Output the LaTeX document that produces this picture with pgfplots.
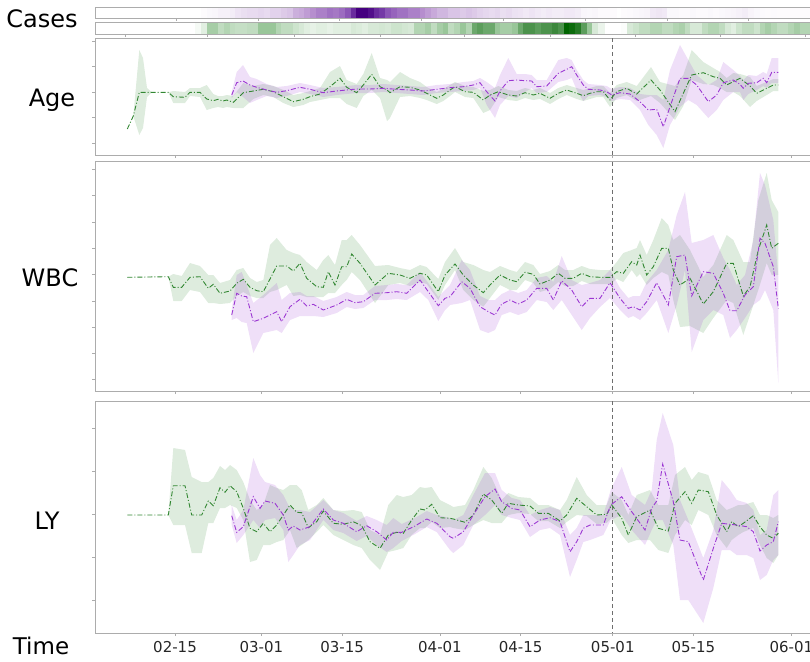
\documentclass[border=0pt]{standalone}
\usepackage{pgfplots}
\pgfplotsset{compat=1.18}
\usepackage{pgfplotstable}
\usepgfplotslibrary{fillbetween}
\usepackage{fontspec}
\setmainfont{DejaVu Sans}
\definecolor{pline}{RGB}{155,55,210}
\definecolor{gline}{RGB}{50,135,50}
\definecolor{frame}{RGB}{172,172,172}
\definecolor{vline}{RGB}{110,110,110}

% ---------- case strips: day (0 = 02-15), intensity ----------
\pgfplotstableread{
day val
5 .02
6 .04
7 .05
8 .08
9 .08
10 .1
11 .15
12 .18
13 .2
14 .2
15 .22
16 .2
17 .25
18 .25
19 .28
20 .3
21 .38
22 .4
23 .45
24 .5
25 .55
26 .55
27 .6
28 .58
29 .62
30 .7
31 .85
32 1
33 1
34 .95
35 .85
36 .8
37 .7
38 .65
39 .6
40 .6
41 .55
42 .55
43 .5
44 .45
45 .4
46 .35
47 .35
48 .3
49 .3
50 .28
51 .3
52 .28
53 .25
54 .22
55 .2
56 .22
57 .18
58 .2
59 .16
60 .15
61 .12
62 .15
63 .12
64 .1
65 .12
66 .1
67 .1
68 .12
69 .12
70 .1
71 .05
72 .04
73 .05
74 .03
75 .03
76 .02
78 .02
79 .03
80 .04
81 .05
82 .06
83 .12
84 .14
85 .12
86 .04
87 .04
88 .03
89 .03
90 .04
91 .03
92 .03
93 .04
94 .03
95 .04
96 .05
97 .06
98 .08
99 .1
100 .06
101 .04
102 .03
103 .02
104 .03
105 .02
106 .02
107 .02
108 .02
109 .02
110 .02
}\CasesP

\pgfplotstableread{
day val
4 .05
5 .15
6 .4
7 .4
8 .3
9 .35
10 .3
11 .28
12 .28
13 .3
14 .3
15 .45
16 .45
17 .45
18 .35
19 .3
20 .3
21 .25
22 .2
23 .15
24 .12
25 .15
26 .15
27 .12
28 .15
29 .15
30 .15
31 .2
32 .18
33 .15
34 .2
35 .2
36 .22
37 .2
38 .25
39 .25
40 .22
41 .2
42 .35
43 .35
44 .4
45 .3
46 .4
47 .45
48 .3
49 .35
50 .45
51 .35
52 .6
53 .65
54 .6
55 .6
56 .45
57 .4
58 .4
59 .45
60 .6
61 .7
62 .7
63 .65
64 .7
65 .7
66 .75
67 .7
68 1
69 .95
70 .85
71 .65
72 .45
73 .2
74 .1
78 .02
79 .2
80 .25
81 .3
82 .3
83 .35
84 .35
85 .3
86 .3
87 .35
88 .38
89 .3
90 .2
91 .2
92 .3
93 .35
94 .35
95 .3
96 .2
97 .15
98 .25
99 .3
100 .3
101 .25
102 .35
103 .4
104 .35
105 .3
106 .3
107 .35
108 .4
109 .35
110 .35
}\CasesG

% ---------- Age ----------
\pgfplotstableread{
px y lo hi
127.3 129 129 129
133.3 116 116 116
139.3 92.3 50 135
143 92.3 58 128
147 92.3 88 97
152 92.3 92.3 92.3
168.3 92.3 92.3 92.3
173.3 96.7 91 103
185 97.3 92 103
190 92.3 88 96
200 92.3 88 97
206.7 99 85 110
213.3 100.7 94 108
218 99.3 96 107
223 101 96 108
226.7 100 95 107
233.3 102.3 96 108
243.3 92.7 83 108
253.3 91 86 99
263.3 89.3 84 95
273.3 91.7 86 97
283.3 96.7 90 103
293.3 101.7 95 107
303.3 99.3 93 105
310 96.7 91 102
320 94 88 100
330 86.7 72 98
340 78.3 66 98
346.7 87.3 80 104
356.7 92.7 84 108
363.3 85 74 96
371.7 74.3 53 90
380 86.7 78 98
387 90 80 121
390 92.7 82 118
400 86.7 72 97
410 87.3 78 96
420 90 82 98
426.7 93.3 87 100
436.7 98.3 92 104
443.3 95 89 101
450 90 85 96
455 86.7 82 92
465 91.7 86 97
473.3 92.3 87 98
483.3 100 91 113
490 95 90 110
498.3 91.7 86 97
508.3 95 90 100
516.7 96 91 101
525 92.7 88 98
533.3 95 90 100
540 93.3 88 99
550 98.3 93 104
558.3 93.3 88 99
566.7 90 85 95
576.7 93.3 88 99
583.3 95.7 90 101
590 93.3 88 99
596.7 91.7 86 97
603.3 91.7 86 97
610 100 93 107
616.7 91.7 85 98
626.7 88.3 82 95
636.7 94 86 101
651 80 67 96
660 90 82 103
675 111.7 86 120
683.3 93.3 75 106
691.7 75 50 80
703.3 72.7 62 84
713.3 76.7 68 85
720 78.3 72 88
726.7 85 78 92
733.3 81.7 73 92
740 78.3 74 96
750 86 77 107
756.7 93.3 86 101
766.7 88.3 82 95
773.3 85 79 91
778.3 85 79 91
}\AgeG

\pgfplotstableread{
px y lo hi
231.7 95 92 98
236.7 82.7 72 92
243 81 65 97
250 85 77 103
256.7 87.3 79 100
266.7 90 84 96
276.7 92.3 87 98
286.7 90.7 86 96
300 87.3 83 92
310 89.3 85 94
323.3 92.7 88 97
336.7 91 87 95
346.7 90 86 94
356.7 89 85 93
370 89 85 93
383.3 88.3 84 92
396.7 89.3 85 93
410 90 86 94
423.3 91 87 95
436.7 89.3 85 93
450 87.7 84 92
463.3 86.7 82 91
473.3 85 81 90
480 82.7 78 88
486.7 91.7 82 105
495 101 88 118
500 91 75 105
508.3 80.7 58 96
516.7 80 74 98
525 80.7 74 92
531.7 81 75 88
536.7 86.7 80 93
546.7 86 80 92
558.3 73.3 60 82
566.7 69.3 58 80
571.7 66.7 60 78
576.7 75 70 90
583.3 85 80 101
588.3 89.3 84 96
600 90 85 95
606.7 91.7 86 97
611.7 95 89 101
620 92.7 87 99
630 94 88 100
640 101.7 94 110
648.3 110 95 125
656.7 109.3 95 135
663.3 126.7 100 148
670 106.7 70 125
680 78.3 45 107
688.3 78.3 60 100
696.7 85 75 105
708.3 101.7 85 118
716.7 95 80 110
723.3 82.7 62 100
733.3 80 70 92
740 84.3 76 92
743.3 88.3 80 100
748.3 83.3 75 94
756.7 82.7 76 90
763.3 78.3 72 86
766.7 82.7 74 88
771.7 72.3 58 83
778.3 72.3 58 83
}\AgeP

% ---------- WBC ----------
\pgfplotstableread{
px y lo hi
127.3 277.3 277.3 277.3
168.3 276.7 276.7 276.7
173.3 287.3 274 301
181.7 287.3 276 301
190 277.3 263 290
200 276.7 266 292
208.3 288.3 275 303
213.3 284.3 275 303
220 293.3 283 304
230 291 280 303
236.7 283.3 270 296
243.3 279.3 268 292
250 287.3 278 296
256.7 290.7 282 298
263.3 291.7 280 298
270 279 245 292
276.7 266 238 290
286.7 266 250 285
293.3 271 253 296
300 263.3 255 295
306.7 278.3 262 297
316.7 286.7 270 297
323.3 287.3 260 297
328.3 271.7 255 293
335 285 265 293
341.7 266.7 240 285
346.7 266.7 240 280
351.7 254 235 272
360 263.3 245 280
375 285 266 303
388.3 273.3 265 285
400 275 268 283
410 278.3 270 286
420 273.3 265 282
426.7 275 267 284
438.3 291.7 279 300
445 275 262 285
455 264 248 270
463.3 275 262 290
473.3 285 265 300
483.3 292.7 270 306.7
490 285 272 298
500 275 266 285
510 280 270 290
516.7 281.7 272 290
525 272.3 262 280
533.3 274.3 265 283
540 284 274 292
550 280 271 289
558.3 273.3 265 282
565 278.3 270 286
573.3 278.3 270 286
581.7 273.3 266 281
590 276.7 269 284
600 277.3 270 284
610 277.3 270 284
616.7 271.7 262 279
623.3 273.3 253 282
631.7 261.7 250 270
636.7 265 248 277
640 255 240 274
646.7 275 255 285
653.3 266.7 240 278
661.7 248.3 218 272
668.3 248.3 225 275
673.3 270 240 300
680 285 235 327
690 278.3 250 326
703.3 304 277 333
713.3 291.7 265 318
726.7 263.3 235 300
733.3 263.3 240 303
743.3 296 262 335
750 286.7 262 315
758.3 250 200 290
766.7 225 173 263
771.7 248.3 200 275
778.3 243.3 212 275
}\WbcG

\pgfplotstableread{
px y lo hi
231.7 315 310 320
236.7 293.3 275 318
241.7 296 272 322
246.7 296.7 285 323
253.3 321.7 303 353
263.3 318.3 295 333
276.7 311.7 283 330
281.7 321.7 300 333
290 306.7 293 320
300 299.3 292 316
306.7 306 296 316
313.3 304.3 296 316
323.3 310 301 317
336.7 305 297 313
346.7 299.3 292 307
355 302.7 295 309
363.3 301.7 295 308
375 293.3 286 300
386.7 292.7 285 300
396.7 291.7 284 299
406.7 293.3 285 300
420 280 272 292
428.3 291.7 283 300
438.3 305.7 297 321
445 298.3 290 310
450 296.7 285 305
461.7 281.7 260 303
470 288.3 270 300
480 306.7 296 330
488.3 311.7 300 333
495 315 300 330
501.7 304 294 315
510 300 290 312
518.3 304 293 315
526.7 300 290 312
536.7 288.3 278 300
546.7 288.3 276 302
553.3 300 282 310
561.7 280.7 256 300
571.7 290 280 315
581.7 306.7 285 330
590 298.3 283 318
600 298.3 280 307
610 282.7 270 298
620 298.3 288 310
628.3 308.3 298 318
633.3 306.7 296 316
640 310 296 320
646.7 301.7 282 313
656.7 282.7 270 300
668.3 305 250 333
676.7 256.7 215 305
685 255 192 270
691.7 296 243 352
703.3 271.7 240 320
713.3 273.3 235 310
723.3 293.3 258 315
730 310.7 270 338
736.7 310.7 285 330
745 295 275 318
753.3 286.7 240 305
760 238.3 173 300
765 243.3 185 290
773.3 266.7 220 310
778.3 308.3 277 383
}\WbcP

% ---------- LY ----------
\pgfplotstableread{
px y lo hi
127.3 515 515 515
168.3 515 515 515
173.3 485.7 448 525
185 485.7 450 525
191.7 515 477 553
201.7 515 482 553
208.3 501 482 523
213.3 505.7 478 523
220 487.7 466 508
225 492.3 470 508
230 485.7 465 505
236.7 491.7 470 508
243.3 508.3 482 520
250 528.3 500 562
256.7 531.7 510 560
263.3 523.3 505 545
270 531.7 485 545
276.7 525 488 542
283.3 515 490 540
290 505 485 530
296.7 512.3 485 548
301.7 512.7 490 545
308.3 527.7 510 540
316.7 521.7 505 532
323.3 511 498 525
333.3 523.3 510 535
343.3 524.3 511 540
353.3 521.7 510 545
361.7 525.7 512 548
370 541.7 530 560
380 548.3 535 570
388.3 535 505 552
396.7 532.3 495 550
403.3 533.3 497 548
411.7 520 495 535
420 509 487 528
425 510 488 528
431.7 504.3 487 522
440 517.7 500 528
450 518.3 505 527
453.3 519 507 528
465 522.3 505 530
473.3 515 490 525
483.3 494 467 520
491.7 500 478 523
501.7 513.3 500 523
508.3 503.3 493 515
518.3 505 497 513
530 506 498 514
538.3 513.3 505 521
548.3 513.3 505 521
560 521 510 528
566.7 515 500 522
576.7 498.3 477 515
586.7 506.7 495 516
596.7 515 505 524
606.7 514.3 505 523
611.7 505 492 518
621.7 518.3 500 535
628.3 535 515 543
636.7 516.7 495 540
650 510 490 540
658.3 528.3 505 550
668.3 531 505 553
675 503.3 475 535
685 491.7 467 520
691.7 503.3 480 525
698.3 490 472 510
708.3 491.7 475 515
716.7 515 500 535
726.7 531.7 510 548
731.7 521.7 508 540
738.3 526.7 505 535
743.3 523.3 505 532
753.3 515.7 502 528
760 526.7 515 545
766.7 535 515 558
773.3 538.3 518 563
778.3 533.3 515 555
}\LyG

\pgfplotstableread{
px y lo hi
231.7 515.7 505 525
236.7 532.3 520 543
243.3 526.7 510 535
253.3 496.7 458 520
260 508.3 475 528
265 501 482 520
275 503.3 485 518
283.3 515 495 530
288.3 530 505 562
293.3 526 510 555
300 530 510 545
310 526.7 512 540
323.3 509 500 520
333.3 520 510 530
343.3 523.3 513 533
356.7 531.7 521 541
366.7 525.7 516 536
376.7 531.7 520 545
386.7 540 525 552
393.3 532.3 518 548
401.7 532.3 524 541
415 526 518 534
426.7 519 511 527
436.7 523.3 515 532
450 536.7 518 550
453.3 538.3 520 553
463.3 531.7 515 545
473.3 515 495 525
485 496.7 473 515
495 489 473 505
501.7 501.7 490 515
511.7 508.3 498 518
520 510 500 520
530 526.7 515 537
540 520 510 530
550 517.7 507 528
560 521.7 510 535
570 551.7 535 577
576.7 541.7 528 560
583.3 528.3 515 542
590 525 515 540
603.3 525 515 535
610.7 505 490 520
621.7 496.7 467 515
631.7 511.7 495 530
645 530 505 545
651.7 508.3 490 530
656.7 501 440 520
662.7 464 413 520
673.3 501.7 445 545
680 540 500 600
688.3 541.7 520 600
703.3 580 558 623
713.3 548.3 530 588
721.7 523.3 480 550
730 524.3 490 550
736.7 525 500 555
746.7 526.7 503 555
753.3 531.7 510 558
760 551 535 580
766.7 545 530 575
773.3 541.7 495 560
778.3 521.7 490 555
}\LyP

\pgfplotsset{
  panelax/.style={
    scale only axis, width=717pt, anchor=north west,
    xmin=-13.89, xmax=110.59, y dir=reverse,
    axis line style={frame, line width=0.9pt},
    tick align=outside, major tick length=3pt,
    every tick/.style={frame, line width=0.7pt},
    xtick={0,15,29,46,60,76,90,107}, xticklabels={}, xtick pos=bottom,
    ytick pos=left, yticklabels={},
  },
  stripax/.style={
    scale only axis, width=717pt, anchor=north west,
    xmin=-13.89, xmax=110.59, ymin=0, ymax=1, ytick=\empty,
    axis line style={frame, line width=0.9pt}, axis on top,
    tick align=outside, major tick length=3pt,
    every tick/.style={frame, line width=0.7pt},
    xticklabels={}, xtick pos=bottom,
    point meta min=0, point meta max=1,
  },
  greenln/.style={gline, line width=0.9pt, dash pattern=on 5pt off 2pt on 1pt off 2pt},
  purpleln/.style={pline, line width=0.9pt, dash pattern=on 5pt off 2pt on 1pt off 2pt},
  divln/.style={vline, line width=0.8pt, dash pattern=on 4pt off 3pt},
}

\newcommand{\bandplot}[3]{%
  \addplot[draw=none, name path=#3lower] table[x expr=(\thisrow{px}-175)/5.76, y=lo]{#1};
  \addplot[draw=none, name path=#3upper] table[x expr=(\thisrow{px}-175)/5.76, y=hi]{#1};
  \addplot[fill=#2, fill opacity=0.16, draw=none] fill between[of=#3lower and #3upper];
}
\newcommand{\lineplot}[2]{%
  \addplot[#2] table[x expr=(\thisrow{px}-175)/5.76, y=y]{#1};
}

\begin{document}
\begin{tikzpicture}

% Age
\begin{axis}[panelax, at={(95pt,-38.5pt)}, height=116.5pt,
  ymin=38.5, ymax=155, ytick={41,66.5,92,117.5,143}]
\bandplot{\AgeG}{gline}{ag}
\bandplot{\AgeP}{pline}{ap}
\addplot[divln] coordinates {(76,38.5) (76,155)};
\lineplot{\AgeG}{greenln}
\lineplot{\AgeP}{purpleln}
\end{axis}

% WBC
\begin{axis}[panelax, at={(95pt,-161.5pt)}, height=229.5pt,
  ymin=161.5, ymax=391, ytick={169,195,222,248,274,301,327,353,379}]
\bandplot{\WbcG}{gline}{wg}
\bandplot{\WbcP}{pline}{wp}
\addplot[divln] coordinates {(76,161.5) (76,391)};
\lineplot{\WbcG}{greenln}
\lineplot{\WbcP}{purpleln}
\end{axis}

% LY
\begin{axis}[panelax, at={(95pt,-401pt)}, height=232pt,
  ymin=401, ymax=633, ytick={428,471,514,557,600},
  xticklabels={02-15,03-01,03-15,04-01,04-15,05-01,05-15,06-01},
  xticklabel style={font=\fontsize{15}{15}\selectfont, text=black!85, yshift=-2pt}]
\bandplot{\LyG}{gline}{lg}
\bandplot{\LyP}{pline}{lp}
\addplot[divln] coordinates {(76,401) (76,633)};
\lineplot{\LyG}{greenln}
\lineplot{\LyP}{purpleln}
\end{axis}

% Cases strips
\begin{axis}[stripax, at={(95pt,-7pt)}, height=11pt,
  xtick={0.3,14.5,28.6,42.8,57,71.2,85.4,99.5},
  colormap={purp}{rgb255=(255,255,255) rgb255=(226,210,236) rgb255=(182,142,206) rgb255=(128,72,176) rgb255=(70,0,128)}]
\addplot[scatter, only marks, mark=square*, mark size=2.88pt,
    mark options={yscale=1.68, line width=0.3pt},
    scatter/use mapped color={draw=mapped color, fill=mapped color},
    point meta=explicit] table[x=day, y expr=0.5, meta=val]{\CasesP};
\end{axis}
\begin{axis}[stripax, at={(95pt,-22.5pt)}, height=11.5pt,
  xtick={-8.7,5.7,20.8,35.6,50.3,65.1,79.9,94.6,109.4},
  colormap={grn}{rgb255=(255,255,255) rgb255=(205,228,205) rgb255=(140,190,140) rgb255=(60,135,60) rgb255=(0,100,0)}]
\addplot[scatter, only marks, mark=square*, mark size=2.88pt,
    mark options={yscale=1.76, line width=0.3pt},
    scatter/use mapped color={draw=mapped color, fill=mapped color},
    point meta=explicit] table[x=day, y expr=0.5, meta=val]{\CasesG};
\end{axis}

\node[font=\fontsize{24}{24}\selectfont] at (42pt,-19pt) {Cases};
\node[font=\fontsize{24}{24}\selectfont] at (52pt,-100pt) {Age};
\node[font=\fontsize{24}{24}\selectfont] at (50pt,-278pt) {WBC};
\node[font=\fontsize{24}{24}\selectfont] at (47pt,-521pt) {LY};
\node[font=\fontsize{23}{23}\selectfont] at (41pt,-646pt) {Time};

\pgfresetboundingbox
\path (0,0) rectangle (810pt,-661pt);
\end{tikzpicture}
\end{document}
